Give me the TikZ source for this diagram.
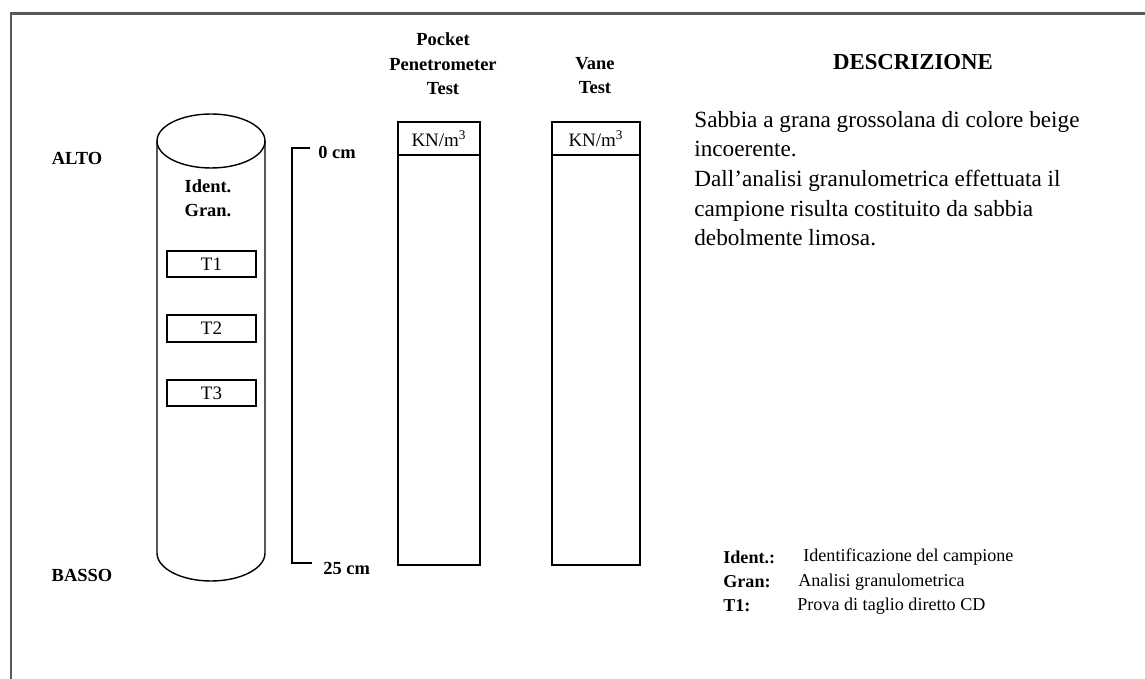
\documentclass[tikz,border=0pt]{standalone}
\usepackage{fontspec}
\setmainfont{Liberation Serif}
\usetikzlibrary{positioning}

\tikzset{
  lbl/.style={black, font=\fontsize{10.5}{13.9}\selectfont\bfseries, align=center, inner sep=0pt},
  desc/.style={black, font=\fontsize{13.2}{16.8}\selectfont, align=left, inner sep=0pt},
  lgd/.style={black, font=\fontsize{10.3}{13}\selectfont, inner sep=0pt},
  tbox/.style={draw=black, line width=0.9pt, minimum width=1.78cm, minimum height=0.53cm, inner sep=0pt, font=\fontsize{10.8}{13}\selectfont},
  col/.style={draw=black, line width=1.1pt},
}

\begin{document}
\begin{tikzpicture}
  \useasboundingbox (0,0) rectangle (22.9,-13.58);
	\draw[draw=black!65, line width=1.7pt] (0.22,-13.58) -- (0.22,-0.28) -- (22.9,-0.28);

	% sample tube
	\draw[draw=black, line width=0.8pt] (4.22,-2.82) ellipse (1.08 and 0.54);
	\draw[draw=black, line width=0.8pt] (3.14,-2.82) -- (3.14,-11.06)
	    arc[start angle=180, end angle=360, x radius=1.08, y radius=0.56] -- (5.30,-2.82);

	\node[lbl] (alto) at (1.54,-3.16) {ALTO};
	\node[lbl] (basso) at (1.64,-11.50) {BASSO};
	\node[lbl] (ident) at (4.16,-3.97) {Ident.\\Gran.};

	\node[tbox] (t1) at (4.23,-5.28) {T1};
	\node[tbox] (t2) at (4.23,-6.57) {T2};
	\node[tbox] (t3) at (4.23,-7.86) {T3};

	% depth scale
	\draw[draw=black, line width=0.9pt] (6.20,-2.96) -- (5.84,-2.96) -- (5.84,-11.26) -- (6.24,-11.26);
	\node[lbl, anchor=west] (top) at (6.36,-3.04) {0 cm};
	\node[lbl, anchor=west] (bottom) at (6.46,-11.36) {25 cm};

	% test columns
	\draw[col] (7.96,-2.44) rectangle (9.60,-11.30);
	\draw[col] (7.96,-3.10) -- (9.60,-3.10);
	\draw[col] (11.04,-2.44) rectangle (12.80,-11.30);
	\draw[col] (11.04,-3.10) -- (12.80,-3.10);

	\node[lbl] (pocket) at (8.86,-1.28) {Pocket\\Penetrometer\\Test};
	\node[lbl] (vane) at (11.90,-1.51) {Vane\\Test};
	\node[lgd, font=\fontsize{10.8}{13}\selectfont] (unitp) at (8.78,-2.77) {KN/m\textsuperscript{3}};
	\node[lgd, font=\fontsize{10.8}{13}\selectfont] (unitv) at (11.92,-2.77) {KN/m\textsuperscript{3}};

	% description
	\node[lbl, font=\fontsize{13}{16}\selectfont\bfseries] (title) at (18.26,-1.24) {DESCRIZIONE};
	\node[desc, anchor=north west] (descr) at (13.88,-2.22) {Sabbia a grana grossolana di colore beige\\incoerente.\\Dall'analisi granulometrica effettuata il\\campione risulta costituito da sabbia\\debolmente limosa.};

	% legend
	\node[lgd, font=\fontsize{10.3}{13}\selectfont\bfseries, anchor=west] (k1) at (14.46,-11.14) {Ident.:};
	\node[lgd, font=\fontsize{10.3}{13}\selectfont\bfseries, anchor=west] (k2) at (14.46,-11.64) {Gran:};
	\node[lgd, font=\fontsize{10.3}{13}\selectfont\bfseries, anchor=west] (k3) at (14.46,-12.12) {T1:};
	\node[lgd, anchor=west] (v1) at (16.06,-11.14) {Identificazione del campione};
	\node[lgd, anchor=west] (v2) at (15.96,-11.64) {Analisi granulometrica};
	\node[lgd, anchor=west] (v3) at (15.94,-12.12) {Prova di taglio diretto CD};
\end{tikzpicture}
\end{document}
